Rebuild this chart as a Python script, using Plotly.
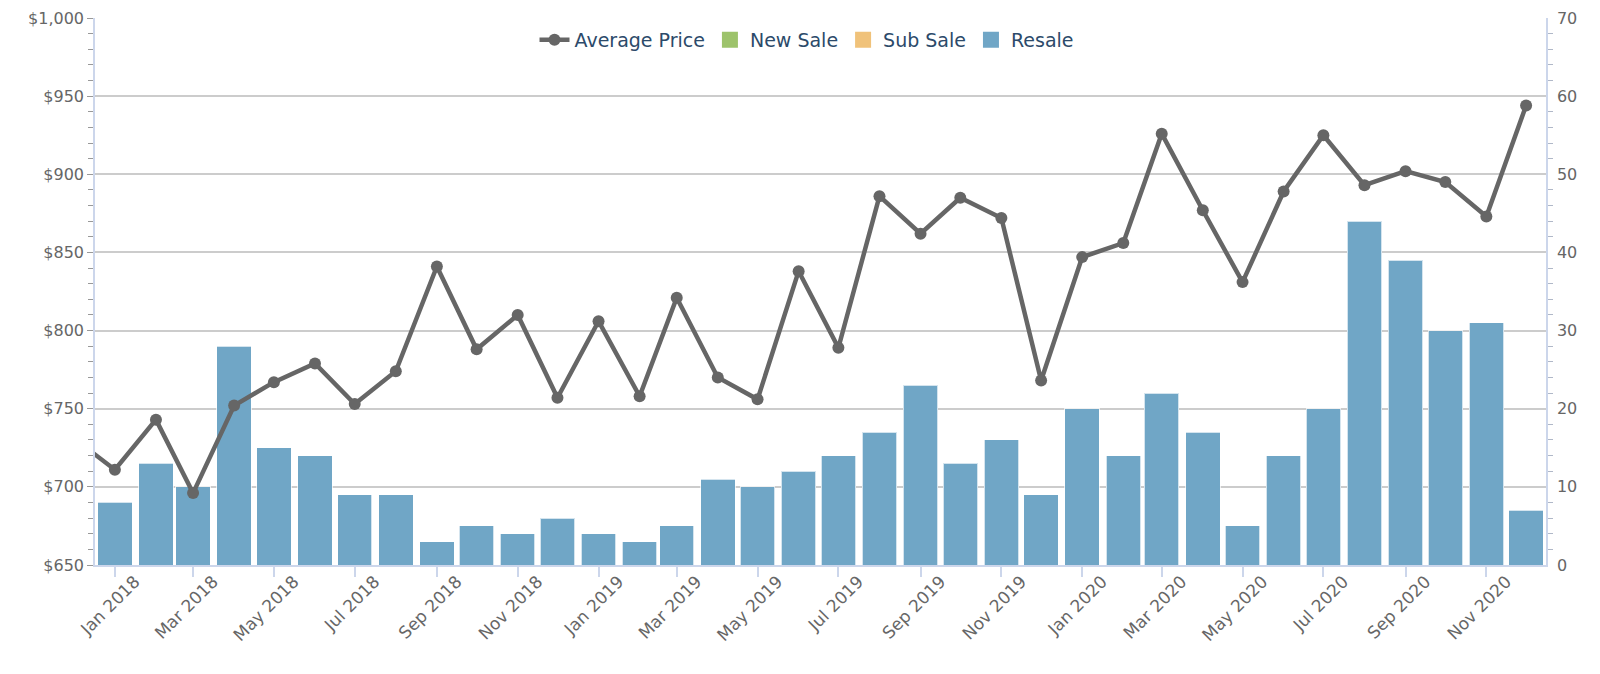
import plotly.graph_objects as go

# ---- data ----
price_months = ["2017-12-01",
                "2018-01-01", "2018-02-01", "2018-03-01", "2018-04-01", "2018-05-01", "2018-06-01",
                "2018-07-01", "2018-08-01", "2018-09-01", "2018-10-01", "2018-11-01", "2018-12-01",
                "2019-01-01", "2019-02-01", "2019-03-01", "2019-04-01", "2019-05-01", "2019-06-01",
                "2019-07-01", "2019-08-01", "2019-09-01", "2019-10-01", "2019-11-01", "2019-12-01",
                "2020-01-01", "2020-02-01", "2020-03-01", "2020-04-01", "2020-05-01", "2020-06-01",
                "2020-07-01", "2020-08-01", "2020-09-01", "2020-10-01", "2020-11-01", "2020-12-01"]
avg_price = [731,
             711, 743, 696, 752, 767, 779, 753, 774, 841, 788, 810, 757,
             806, 758, 821, 770, 756, 838, 789, 886, 862, 885, 872, 768,
             847, 856, 926, 877, 831, 889, 925, 893, 902, 895, 873, 944]

sale_months = price_months[1:]
resale = [8, 13, 10, 28, 15, 14, 9, 9, 3, 5, 4, 6,
          4, 3, 5, 11, 10, 12, 14, 17, 23, 13, 16, 9,
          20, 14, 22, 17, 5, 14, 20, 44, 39, 30, 31, 7]
new_sale = [None] * len(sale_months)
sub_sale = [None] * len(sale_months)

price_ticks = [650, 700, 750, 800, 850, 900, 950, 1000]
price_labels = ["$650", "$700", "$750", "$800", "$850", "$900", "$950", "$1,000"]

# ---- style ----
FONT = "DejaVu Sans"
AXIS_BLUE = "#ccd6eb"
GRID = "#cccccc"
TXT = "#666666"
BAR_W = 26 * 24 * 3600 * 1000
C_NEW, C_SUB, C_RES = "#9dc36b", "#f0c27a", "#70a6c6"

fig = go.Figure()

# actual bars (legend handled by square entries below)
fig.add_trace(go.Bar(x=sale_months, y=new_sale, name="New Sale", marker_color=C_NEW,
                     yaxis="y", width=BAR_W, showlegend=False))
fig.add_trace(go.Bar(x=sale_months, y=sub_sale, name="Sub Sale", marker_color=C_SUB,
                     yaxis="y", width=BAR_W, showlegend=False))
fig.add_trace(go.Bar(x=sale_months, y=resale, name="Resale", marker_color=C_RES,
                     marker_line=dict(color="rgba(255,255,255,0.7)", width=1),
                     yaxis="y", width=BAR_W, showlegend=False))

fig.add_trace(go.Scatter(x=price_months, y=avg_price, name="Average Price", mode="lines+markers",
                         line=dict(color="#666666", width=4.5),
                         marker=dict(color="#666666", size=12),
                         yaxis="y2", legendrank=1))

# legend entries for the bar series
for nm, col, rk in [("New Sale", C_NEW, 2), ("Sub Sale", C_SUB, 3), ("Resale", C_RES, 4)]:
    fig.add_trace(go.Scatter(x=[None], y=[None], name=nm, mode="markers",
                             marker=dict(symbol="square", size=16, color=col),
                             yaxis="y", legendrank=rk))

fig.update_layout(
    width=1600, height=674,
    margin=dict(l=87, r=62, t=10, b=117, autoexpand=False),
    paper_bgcolor="white", plot_bgcolor="white",
    barmode="stack",
    font=dict(family=FONT, size=15, color=TXT),
    legend=dict(orientation="h", x=0.4907, xanchor="center", y=0.96, yanchor="middle",
                font=dict(family=FONT, size=19, color="#2c4a6a"),
                traceorder="normal",
                bgcolor="rgba(0,0,0,0)", itemwidth=30),
    xaxis=dict(type="date", range=["2017-12-17", "2020-12-16"], automargin=False,
               tick0="2018-01-01", dtick="M2", tickformat="%b %Y", tickangle=-45,
               ticks="outside", ticklen=10, tickcolor=AXIS_BLUE, tickwidth=1.5,
               ticklabelshift=20, ticklabelstandoff=-12,
               showline=True, linecolor=AXIS_BLUE, linewidth=2,
               showgrid=False, zeroline=False,
               tickfont=dict(family=FONT, size=17, color=TXT)),
    yaxis=dict(side="right", range=[0, 70], dtick=10, tick0=0, automargin=False,
               showgrid=True, gridcolor=GRID, gridwidth=1.5,
               showline=True, linecolor=AXIS_BLUE, linewidth=1.5,
               zeroline=False, ticks="", ticklabelstandoff=6,
               minor=dict(ticks="outside", dtick=2, tick0=0, ticklen=5,
                          tickcolor="#b0b8c8", showgrid=False),
               tickfont=dict(family=FONT, size=16, color=TXT)),
    yaxis2=dict(side="left", overlaying="y", range=[650, 1000], automargin=False,
                tickvals=price_ticks, ticktext=price_labels,
                showgrid=False, showline=True, linecolor=AXIS_BLUE, linewidth=1.5,
                zeroline=False, ticks="outside", ticklen=6, tickcolor="#999999",
                minor=dict(ticks="outside", dtick=10, tick0=650, ticklen=5,
                           tickcolor="#999999", showgrid=False),
                tickfont=dict(family=FONT, size=16, color=TXT)),
)

fig.write_html("out.html")
